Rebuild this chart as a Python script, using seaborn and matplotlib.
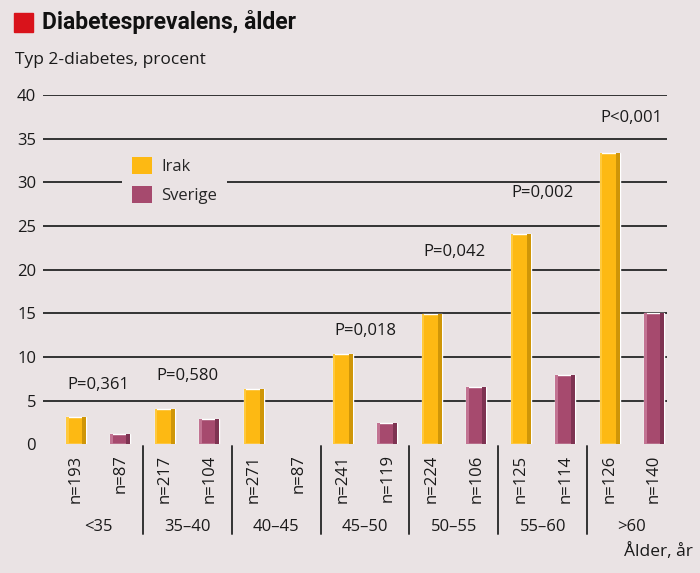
import matplotlib
matplotlib.use("Agg")
import matplotlib.pyplot as plt
from matplotlib.patches import Rectangle, Patch
import matplotlib.transforms as mtransforms
import seaborn as sns
import pandas as pd

# ---- data ----
age_groups = ["<35", "35–40", "40–45", "45–50", "50–55", "55–60", ">60"]
irak = [3.1, 4.0, 6.3, 10.3, 14.9, 24.1, 33.4]
sverige = [1.2, 2.9, 0.0, 2.5, 6.6, 7.9, 15.1]
n_irak = [193, 217, 271, 241, 224, 125, 126]
n_sverige = [87, 104, 87, 119, 106, 114, 140]
p_labels = ["P=0,361", "P=0,580", None, "P=0,018", "P=0,042", "P=0,002", "P<0,001"]
p_y = [6.8, 7.8, None, 13.0, 22.0, 28.8, 37.4]
countries = ["Irak", "Sverige"]
yticks = [0, 5, 10, 15, 20, 25, 30, 35, 40]

BG = "#EAE3E4"
COL = {"Irak": "#FDB913", "Sverige": "#A64A6E"}
DARK = {"Irak": "#CF9608", "Sverige": "#7E3352"}
LIGHT = {"Irak": "#FFC93C", "Sverige": "#C27392"}

rows = []
for g, a in enumerate(age_groups):
    rows.append({"bar": f"{a} Irak", "country": "Irak", "value": irak[g], "n": n_irak[g]})
    rows.append({"bar": f"{a} Sverige", "country": "Sverige", "value": sverige[g], "n": n_sverige[g]})
df = pd.DataFrame(rows)
order = list(df["bar"])

sns.set_theme(style="white")
plt.rcParams["font.family"] = ["Open Sans", "DejaVu Sans"]

fig = plt.figure(figsize=(7.0, 5.73), dpi=100, facecolor=BG)
W, H = 700, 573
left, right, top, bottom = 43, 667, 95, 444.4
ax = fig.add_axes([left / W, 1 - bottom / H, (right - left) / W, (bottom - top) / H])
ax.set_facecolor(BG)

sns.barplot(data=df, x="bar", y="value", hue="country", order=order,
            hue_order=countries, palette=COL, dodge=False, width=0.45,
            saturation=1, legend=False, ax=ax, zorder=3)

# 3D-like strips derived from the drawn bars
for patch in list(ax.patches):
    h = patch.get_height()
    x0, w = patch.get_x(), patch.get_width()
    idx = int(round(x0 + w / 2))
    if h <= 0 or idx < 0 or idx >= len(df):
        patch.set_visible(False)
        continue
    c = df.loc[idx, "country"]
    ax.add_patch(Rectangle((x0 + w * 0.80, 0), w * 0.20, h, color=DARK[c], lw=0, zorder=4))
    ax.add_patch(Rectangle((x0, 0), w * 0.13, h, color=LIGHT[c], lw=0, zorder=4))

ax.set_ylim(0, 40)
ax.set_xlim(-0.74, 13.29)
ax.set_yticks(yticks)
ax.set_yticklabels([str(t) for t in yticks], fontsize=12, color="#1a1a1a")
ax.tick_params(axis="y", length=0, pad=5)
ax.set_xticks([])
ax.set_xlabel("")
ax.set_ylabel("")
for s in ax.spines.values():
    s.set_visible(False)
for t in yticks[1:]:
    ax.axhline(t, color="#333333", lw=1.4, zorder=1)

# n labels
for i, (_, r) in enumerate(df.iterrows()):
    ax.annotate(f"n={r['n']}", xy=(i, 0), xycoords=("data", "axes fraction"),
                xytext=(0, -10), textcoords="offset pixels", rotation=90,
                ha="center", va="top", fontsize=12, color="#1a1a1a")

# group labels and separators
trans = mtransforms.blended_transform_factory(ax.transData, ax.transAxes)
for g, a in enumerate(age_groups):
    ax.annotate(a, xy=(2 * g + 0.5, 0), xycoords=("data", "axes fraction"),
                xytext=(0, -83), textcoords="offset pixels",
                ha="center", va="center", fontsize=12, color="#1a1a1a")
    if g > 0:
        ax.plot([2 * g - 0.5, 2 * g - 0.5], [-0.005, -0.256], transform=trans,
                color="#333333", lw=1.4, clip_on=False)

# p labels
for g, (p, y) in enumerate(zip(p_labels, p_y)):
    if p:
        ax.text(2 * g + 0.5, y, p, ha="center", va="center", fontsize=12,
                color="#1a1a1a", zorder=5)

# legend
handles = [Patch(facecolor=COL[c], edgecolor="none") for c in countries]
leg = ax.legend(handles, countries, loc="upper left",
                bbox_to_anchor=((122 - left) / (right - left), (bottom - 147) / (bottom - top)),
                frameon=True, facecolor=BG, edgecolor="none", framealpha=1,
                fontsize=12, handlelength=1.2, handleheight=1.2,
                handletextpad=0.55, labelspacing=0.65, borderpad=0.6,
                borderaxespad=0, fancybox=False)
leg.set_zorder(6)

# titles
fig.patches.append(Rectangle((14 / W, 1 - 32 / H), 19 / W, 19 / H,
                             transform=fig.transFigure, color="#D9131B"))
fig.text(42 / W, 1 - 22 / H, "Diabetesprevalens, ålder", fontsize=16.5,
         fontweight="bold", ha="left", va="center", color="#111111",
         family=["Roboto", "DejaVu Sans"])
fig.text(15 / W, 1 - 60 / H, "Typ 2-diabetes, procent", fontsize=12.5,
         ha="left", va="center", color="#1a1a1a")
fig.text(693 / W, 1 - 552 / H, "Ålder, år", fontsize=12.5,
         ha="right", va="center", color="#1a1a1a")

fig.savefig("out.png", dpi=100, facecolor=BG)
